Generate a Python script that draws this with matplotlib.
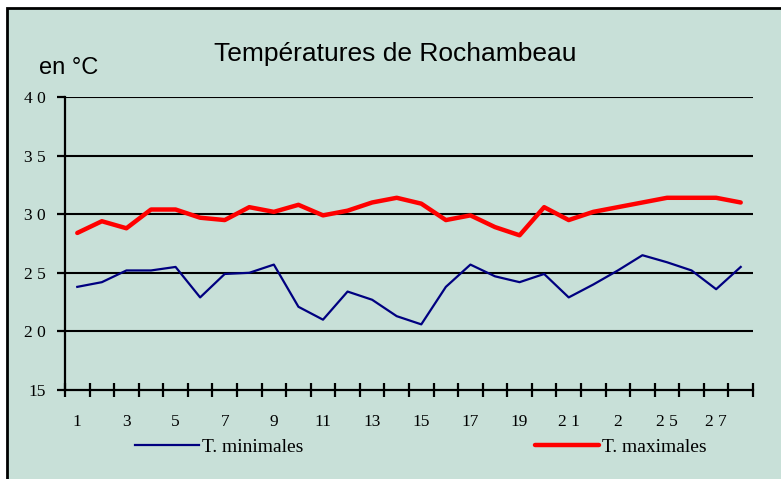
import numpy as np
import matplotlib.pyplot as plt
from matplotlib.patches import Rectangle

# Daily temperatures at Rochambeau (degrees C)
days = np.arange(1, 29)
t_min = [23.8, 24.2, 25.2, 25.2, 25.5, 22.9, 24.9, 25.0, 25.7, 22.1,
         21.0, 23.4, 22.7, 21.3, 20.6, 23.8, 25.7, 24.7, 24.2, 24.9,
         22.9, 24.0, 25.2, 26.5, 25.9, 25.2, 23.6, 25.5]
t_max = [28.4, 29.4, 28.8, 30.4, 30.4, 29.7, 29.5, 30.6, 30.2, 30.8,
         29.9, 30.3, 31.0, 31.4, 30.9, 29.5, 29.9, 28.9, 28.2, 30.6,
         29.5, 30.2, 30.6, 31.0, 31.4, 31.4, 31.4, 31.0]
tick_days = [1, 3, 5, 7, 9, 11, 13, 15, 17, 19, 21, 23, 25, 27]
tick_text = ['1', '3', '5', '7', '9', '11', '13', '15', '17', '19', '2 1', '2', '2 5', '2 7']
y_ticks = [15, 20, 25, 30, 35, 40]
y_text = ['15', '2 0', '2 5', '3 0', '3 5', '4 0']

bg = '#c8e0d8'
fig = plt.figure(figsize=(7.81, 4.79), dpi=100)
fig.patch.set_facecolor('white')
# chart area with black frame (cut off on the right and bottom)
fig.patches.append(Rectangle((7/781, -0.05), 1.0, (479 - 8)/479 + 0.05,
                             transform=fig.transFigure, facecolor=bg,
                             edgecolor='black', linewidth=2, zorder=-1))

ax = fig.add_axes([65/781, 89/479, 688/781, 293/479])
ax.set_facecolor('none')
l_min, = ax.plot(days, t_min, color='#000080', lw=1.6, label='T. minimales')
l_max, = ax.plot(days, t_max, color='#ff0000', lw=3.2, label='T. maximales',
                 solid_capstyle='round')

ax.set_xlim(0.5, 28.5)
ax.set_ylim(15, 40)
for y in y_ticks[1:]:
    ax.axhline(y, color='black', lw=1.5, zorder=0)
for s in ['top', 'right']:
    ax.spines[s].set_visible(False)
ax.spines['left'].set_linewidth(1.6)
ax.spines['bottom'].set_linewidth(1.6)

serif = 'Liberation Serif'
ax.set_xticks(tick_days)
ax.set_xticklabels(tick_text, fontfamily=serif, fontsize=12.5)
ax.set_xticks(np.arange(0.5, 29, 1), minor=True)
ax.tick_params(axis='x', which='major', length=0, pad=17)
ax.tick_params(axis='x', which='minor', direction='inout', length=10, width=1.6)
ax.set_yticks(y_ticks)
ax.set_yticklabels(y_text, fontfamily=serif, fontsize=12.5)
ax.tick_params(axis='y', length=6, width=1.6, pad=8)

fig.text(395/781, 1 - 54/479, 'Températures de Rochambeau', ha='center', va='center',
         fontfamily='Liberation Sans', fontsize=19)
fig.text(39/781, 1 - 68/479, 'en °C', ha='left', va='center',
         fontfamily='Liberation Sans', fontsize=17)

leg_prop = {'family': serif, 'size': 14}
leg1 = fig.legend(handles=[l_min], loc='center left', bbox_to_anchor=(117/781, 1 - 447/479),
                  frameon=False, prop=leg_prop, handlelength=3.3, handletextpad=0.15)
leg2 = fig.legend(handles=[l_max], loc='center left', bbox_to_anchor=(517/781, 1 - 447/479),
                  frameon=False, prop=leg_prop, handlelength=3.3, handletextpad=0.15)

fig.savefig('out.png', dpi=100)
